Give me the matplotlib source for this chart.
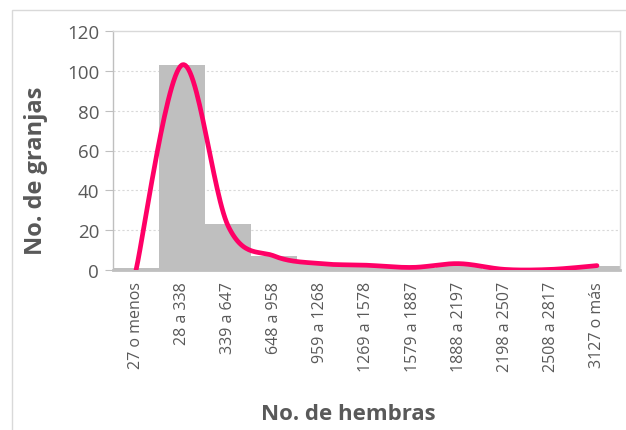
import matplotlib.pyplot as plt
from matplotlib.patches import Rectangle
import numpy as np

categories = ['27 o menos', '28 a 338', '339 a 647', '648 a 958', '959 a 1268',
              '1269 a 1578', '1579 a 1887', '1888 a 2197', '2198 a 2507',
              '2508 a 2817', '3127 o más']
bar_values = [1, 103, 23, 7, 3, 2, 1, 3, 0, 0, 2]
line_values = [0, 103, 22, 7, 3.2, 2.4, 1.3, 3.2, 0.3, 0.3, 2.2]
y_ticks = [0, 20, 40, 60, 80, 100, 120]


def smooth(xs, ys, n=30):
    # excel-like smoothed line: cubic bezier through points, control pts at 1/6 of neighbour diff
    xs = np.asarray(xs, float)
    ys = np.asarray(ys, float)
    px = np.concatenate([[xs[0]], xs, [xs[-1]]])
    py = np.concatenate([[ys[0]], ys, [ys[-1]]])
    out_x, out_y = [], []
    t = np.linspace(0, 1, n)
    for i in range(1, len(px) - 2):
        p0 = np.array([px[i], py[i]])
        p3 = np.array([px[i + 1], py[i + 1]])
        c1 = p0 + (np.array([px[i + 1], py[i + 1]]) - np.array([px[i - 1], py[i - 1]])) / 6
        c2 = p3 - (np.array([px[i + 2], py[i + 2]]) - np.array([px[i], py[i]])) / 6
        pts = ((1 - t) ** 3)[:, None] * p0 + (3 * (1 - t) ** 2 * t)[:, None] * c1 \
            + (3 * (1 - t) * t ** 2)[:, None] * c2 + (t ** 3)[:, None] * p3
        out_x.extend(pts[:, 0])
        out_y.extend(pts[:, 1])
    return np.array(out_x), np.array(out_y)


plt.rcParams['font.family'] = ['Open Sans', 'DejaVu Sans']

fig = plt.figure(figsize=(6.26, 4.31), dpi=100)
fig.patches.append(Rectangle((12 / 626, -0.01), 0.99, 1 - 11 / 431 + 0.01, transform=fig.transFigure,
                             fill=False, edgecolor='#d9d9d9', linewidth=1))
ax = fig.add_axes([113 / 626, 1 - 271 / 431, (620 - 113) / 626, (271 - 32) / 431])

x = np.arange(len(categories))
ax.bar(x, bar_values, width=1.0, color='#bfbfbf', zorder=2)
sx, sy = smooth(x, line_values)
ax.plot(sx, sy, color='#ff0066', linewidth=3.4, solid_capstyle='round', zorder=3)

ax.set_xlim(-0.5, len(categories) - 0.5)
ax.set_ylim(0, 120)
ax.set_yticks(y_ticks)
ax.set_xticks(x)
ax.set_xticklabels(categories, rotation=90, fontsize=11.5, color='#595959')
ax.tick_params(axis='y', labelsize=13.5, colors='#595959', length=6, color='#bfbfbf', pad=4)
ax.tick_params(axis='x', length=0, pad=8)
for v in y_ticks[1:-1]:
    ax.axhline(v, color='#d9d9d9', linewidth=0.8, linestyle=(0, (2, 2)), zorder=1)
for s in ['top', 'right', 'left']:
    ax.spines[s].set_color('#d9d9d9')
    ax.spines[s].set_linewidth(1)
ax.spines['left'].set_color('#bfbfbf')
ax.spines['bottom'].set_color('#bfbfbf')
ax.spines['bottom'].set_linewidth(2)

ax.set_ylabel('No. de granjas', fontsize=17, fontweight='bold', color='#595959')
ax.set_xlabel('No. de hembras', fontsize=16, fontweight='bold', color='#595959')
ax.yaxis.set_label_coords(-0.128, 0.42)
ax.xaxis.set_label_coords(0.464, -0.555)

fig.savefig('out.png', dpi=100)
